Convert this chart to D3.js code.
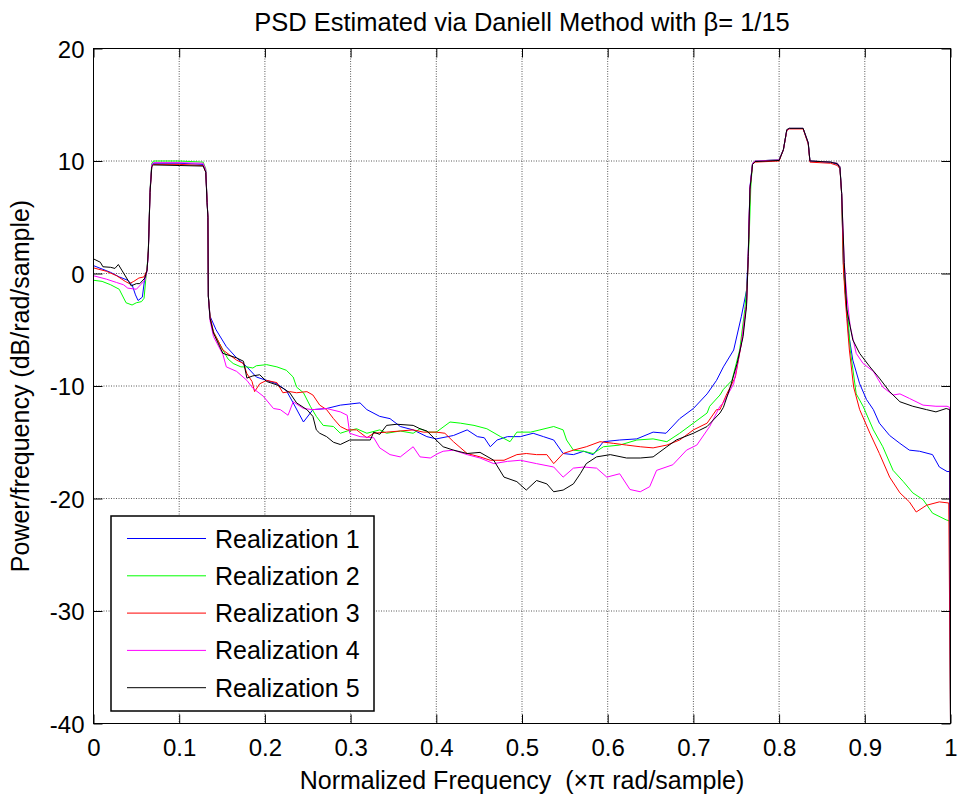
<!DOCTYPE html>
<html>
<head>
<meta charset="utf-8">
<script src="https://cdn.jsdelivr.net/npm/d3@7"></script>
<style>
    body { margin: 0; background: #fff; }
    text { font-family: 'Liberation Sans', Arial, sans-serif; fill: #000; }
</style>
</head>
<body>
<script>
// axis ticks
const xTicks = [0, 0.1, 0.2, 0.3, 0.4, 0.5, 0.6, 0.7, 0.8, 0.9, 1];
const yTicks = [-40, -30, -20, -10, 0, 10, 20];

const seriesNames = ['Realization 1', 'Realization 2', 'Realization 3', 'Realization 4', 'Realization 5'];
const seriesColors = ['#0000ff', '#00ff00', '#ff0000', '#ff00ff', '#000000'];

// [normalized frequency, dB/rad/sample]
const real1 = [[0,0.7],[0.01,0.4],[0.02,0.1],[0.03,-0.3],[0.04,-0.6],[0.045,-1.0],[0.049,-1.9],[0.052,-2.4],[0.057,-2.1],[0.06,-0.3],[0.0625,0.3],[0.064,2],[0.066,7.3],[0.068,9.6],[0.07,9.8],[0.1,9.8],[0.128,9.7],[0.131,9.1],[0.1325,6.5],[0.1335,5],[0.134,-2],[0.136,-3.8],[0.143,-5.0],[0.155,-6.5],[0.167,-7.5],[0.179,-8.3],[0.19,-9.2],[0.202,-9.5],[0.214,-9.8],[0.225,-10.4],[0.233,-11.5],[0.245,-13.2],[0.256,-12.1],[0.272,-12.0],[0.288,-11.7],[0.311,-11.5],[0.319,-12.1],[0.334,-12.7],[0.346,-12.9],[0.358,-13.6],[0.373,-13.9],[0.389,-14.5],[0.4,-14.7],[0.42,-14.4],[0.436,-13.9],[0.448,-14.5],[0.456,-14.6],[0.463,-15.4],[0.471,-14.8],[0.483,-14.5],[0.498,-14.5],[0.513,-14.2],[0.525,-14.5],[0.537,-14.8],[0.548,-16.0],[0.56,-16.1],[0.572,-15.8],[0.583,-16.1],[0.595,-14.95],[0.614,-14.8],[0.634,-14.7],[0.653,-14.1],[0.668,-14.2],[0.684,-12.9],[0.7,-12.0],[0.716,-10.7],[0.727,-9.5],[0.735,-8.3],[0.747,-6.8],[0.756,-3.8],[0.762,-1.5],[0.764,1.8],[0.766,7.7],[0.769,9.8],[0.772,10.0],[0.8,10.1],[0.805,11.0],[0.809,12.75],[0.812,12.9],[0.828,12.9],[0.834,11.6],[0.836,10.0],[0.86,9.9],[0.868,9.7],[0.871,9.4],[0.873,7.1],[0.875,0.9],[0.877,-1.5],[0.881,-5.3],[0.886,-7.7],[0.894,-9.8],[0.902,-11.2],[0.91,-12.1],[0.917,-13.3],[0.929,-14.4],[0.941,-15.1],[0.952,-15.7],[0.964,-15.8],[0.979,-16.1],[0.987,-17.2],[0.996,-17.6],[0.999,-17.6],[1,-40]];

const real2 = [[0,-0.6],[0.01,-0.7],[0.02,-1.0],[0.03,-1.4],[0.034,-2.0],[0.038,-2.6],[0.045,-2.8],[0.05,-2.6],[0.056,-2.5],[0.059,-2.2],[0.061,-0.5],[0.0625,0.5],[0.064,2.2],[0.066,7.5],[0.068,9.8],[0.07,10.0],[0.1,10.0],[0.128,9.9],[0.131,9.3],[0.1325,6.5],[0.1335,5],[0.134,-2],[0.136,-4.0],[0.14,-5.2],[0.151,-6.8],[0.157,-7.6],[0.163,-8.0],[0.172,-8.3],[0.179,-8.3],[0.186,-8.4],[0.19,-8.2],[0.202,-8.1],[0.214,-8.3],[0.225,-8.6],[0.233,-9.2],[0.237,-10.1],[0.245,-10.6],[0.253,-11.8],[0.26,-12.7],[0.268,-13.5],[0.28,-13.6],[0.288,-14.2],[0.296,-14.0],[0.307,-13.8],[0.319,-14.2],[0.334,-13.9],[0.342,-14.2],[0.358,-14.0],[0.373,-14.2],[0.381,-13.8],[0.391,-14.1],[0.4,-14.1],[0.416,-13.2],[0.428,-13.3],[0.444,-13.5],[0.459,-13.8],[0.475,-14.5],[0.486,-14.95],[0.494,-14.1],[0.51,-14.1],[0.521,-13.9],[0.537,-13.6],[0.548,-13.9],[0.552,-14.8],[0.56,-15.7],[0.572,-15.8],[0.583,-16.0],[0.595,-15.4],[0.614,-15.25],[0.634,-14.8],[0.653,-14.7],[0.669,-14.95],[0.684,-14.2],[0.7,-13.3],[0.716,-12.4],[0.719,-11.8],[0.731,-10.8],[0.735,-10.3],[0.745,-9.5],[0.754,-6.8],[0.76,-3.2],[0.763,-0.5],[0.765,3],[0.767,7.7],[0.769,9.8],[0.772,10.0],[0.8,10.1],[0.805,11.0],[0.809,12.75],[0.812,12.9],[0.828,12.9],[0.834,11.6],[0.836,10.0],[0.86,9.9],[0.868,9.8],[0.871,9.5],[0.873,7.1],[0.875,0.9],[0.877,-1.5],[0.881,-4.5],[0.883,-6.8],[0.89,-10.7],[0.898,-11.8],[0.91,-13.9],[0.921,-15.4],[0.933,-17.5],[0.945,-18.5],[0.956,-19.5],[0.968,-20.1],[0.979,-21.3],[0.995,-21.9],[0.999,-22.0],[1,-40]];

const real3 = [[0,0.5],[0.015,0.2],[0.027,-0.2],[0.037,-0.7],[0.042,-0.9],[0.047,-0.7],[0.053,-0.4],[0.059,-0.3],[0.0625,0.3],[0.064,2],[0.066,7.2],[0.068,9.5],[0.07,9.7],[0.1,9.7],[0.128,9.6],[0.131,9.0],[0.1325,6.5],[0.1335,5],[0.134,-2],[0.136,-3.8],[0.14,-5.2],[0.151,-6.8],[0.167,-7.7],[0.175,-8.0],[0.179,-8.9],[0.185,-9.6],[0.188,-10.5],[0.194,-9.8],[0.202,-9.5],[0.214,-9.7],[0.221,-10.6],[0.229,-10.5],[0.237,-10.6],[0.249,-10.5],[0.256,-10.8],[0.264,-11.7],[0.272,-12.1],[0.28,-12.9],[0.288,-13.6],[0.296,-13.9],[0.307,-13.9],[0.319,-14.6],[0.327,-14.2],[0.342,-14.1],[0.358,-14.0],[0.373,-13.9],[0.385,-14.1],[0.4,-14.1],[0.41,-14.2],[0.42,-14.95],[0.436,-16.0],[0.451,-16.3],[0.463,-16.6],[0.479,-16.6],[0.494,-16.1],[0.505,-16.0],[0.517,-16.1],[0.529,-16.1],[0.537,-16.9],[0.548,-16.0],[0.56,-15.7],[0.575,-15.4],[0.591,-14.95],[0.607,-15.1],[0.622,-15.25],[0.638,-15.4],[0.653,-15.5],[0.669,-15.25],[0.684,-14.8],[0.7,-13.9],[0.716,-13.3],[0.727,-12.1],[0.731,-12.1],[0.739,-10.7],[0.749,-9.2],[0.756,-6.2],[0.762,-2.7],[0.764,1.5],[0.766,7.5],[0.769,9.7],[0.772,9.9],[0.8,10.0],[0.805,11.0],[0.809,12.7],[0.812,12.85],[0.828,12.85],[0.834,11.5],[0.836,9.9],[0.86,9.8],[0.868,9.6],[0.871,9.3],[0.873,7.0],[0.875,0.5],[0.877,-2.0],[0.879,-4.0],[0.882,-6.8],[0.887,-10.1],[0.894,-12.1],[0.906,-14.2],[0.917,-16.0],[0.929,-18.1],[0.941,-19.5],[0.952,-20.3],[0.96,-21.2],[0.972,-20.6],[0.987,-20.3],[0.998,-20.4],[1,-40]];

const real4 = [[0,-0.2],[0.015,-0.5],[0.027,-0.8],[0.035,-1.0],[0.04,-1.3],[0.05,-1.4],[0.055,-1.0],[0.06,-0.6],[0.0625,0.2],[0.064,2],[0.066,7.4],[0.068,9.7],[0.07,9.85],[0.1,9.85],[0.128,9.8],[0.131,9.2],[0.1325,6.5],[0.1335,5],[0.134,-2],[0.136,-4.2],[0.14,-5.6],[0.151,-7.2],[0.155,-8.3],[0.167,-8.7],[0.179,-9.5],[0.186,-10.2],[0.198,-10.9],[0.21,-12.0],[0.218,-12.1],[0.227,-12.6],[0.233,-11.4],[0.245,-12.0],[0.256,-12.1],[0.272,-12.0],[0.288,-12.3],[0.296,-12.6],[0.299,-14.2],[0.311,-14.5],[0.327,-14.6],[0.334,-15.5],[0.346,-16.1],[0.358,-16.3],[0.373,-15.4],[0.381,-16.3],[0.393,-16.4],[0.402,-16.0],[0.408,-15.8],[0.42,-15.7],[0.436,-16.1],[0.451,-16.4],[0.467,-16.9],[0.483,-16.7],[0.498,-16.6],[0.517,-16.9],[0.537,-17.2],[0.548,-18.1],[0.56,-17.3],[0.572,-17.2],[0.587,-17.3],[0.599,-18.1],[0.614,-17.8],[0.626,-19.2],[0.638,-19.4],[0.649,-18.95],[0.657,-17.5],[0.676,-17.0],[0.692,-15.7],[0.704,-15.25],[0.719,-13.6],[0.731,-11.8],[0.735,-11.5],[0.747,-9.8],[0.756,-6.2],[0.762,-2.7],[0.764,1.6],[0.766,7.6],[0.769,9.8],[0.772,10.0],[0.8,10.1],[0.805,11.0],[0.809,12.75],[0.812,12.9],[0.828,12.9],[0.834,11.6],[0.836,10.0],[0.86,9.9],[0.868,9.8],[0.871,9.5],[0.873,7.1],[0.876,1.0],[0.879,-2.0],[0.883,-4.7],[0.89,-7.1],[0.898,-8.0],[0.91,-8.7],[0.921,-10.1],[0.933,-10.8],[0.941,-10.7],[0.952,-11.1],[0.968,-11.7],[0.983,-11.8],[0.996,-11.8],[0.999,-11.9],[1,-40]];

const real5 = [[0,1.3],[0.008,1.0],[0.011,0.6],[0.02,0.55],[0.025,0.45],[0.029,0.8],[0.033,0.3],[0.041,-0.7],[0.044,-1.1],[0.05,-0.9],[0.054,-0.9],[0.06,-0.4],[0.0625,0.3],[0.064,2],[0.066,7.2],[0.068,9.5],[0.07,9.65],[0.1,9.6],[0.128,9.55],[0.131,9.0],[0.1325,6.3],[0.1335,5],[0.134,-2],[0.136,-4.0],[0.14,-5.3],[0.151,-7.1],[0.167,-7.5],[0.175,-7.8],[0.179,-9.3],[0.186,-9.1],[0.194,-9.0],[0.202,-9.6],[0.214,-9.9],[0.221,-10.2],[0.229,-10.6],[0.237,-11.5],[0.249,-12.1],[0.256,-12.7],[0.26,-13.9],[0.264,-14.2],[0.272,-14.5],[0.28,-15.0],[0.288,-15.2],[0.299,-14.8],[0.323,-14.8],[0.327,-14.1],[0.334,-14.3],[0.342,-13.5],[0.354,-13.4],[0.373,-13.5],[0.381,-13.8],[0.389,-14.0],[0.397,-14.6],[0.408,-15.4],[0.42,-15.7],[0.436,-16.0],[0.451,-15.9],[0.467,-16.6],[0.479,-18.1],[0.494,-18.5],[0.505,-19.25],[0.517,-18.4],[0.529,-18.7],[0.537,-19.4],[0.548,-19.25],[0.56,-18.7],[0.568,-17.8],[0.575,-16.9],[0.587,-16.3],[0.603,-16.1],[0.622,-16.4],[0.638,-16.4],[0.653,-16.3],[0.669,-15.4],[0.68,-14.8],[0.7,-14.2],[0.716,-13.6],[0.731,-12.4],[0.735,-11.9],[0.743,-10.1],[0.751,-8.0],[0.758,-5.6],[0.762,-2.9],[0.764,1.5],[0.766,7.5],[0.769,9.7],[0.772,9.95],[0.8,10.05],[0.805,11.0],[0.809,12.8],[0.812,12.9],[0.828,12.9],[0.834,11.6],[0.836,10.0],[0.86,9.9],[0.868,9.75],[0.871,9.4],[0.873,7.1],[0.876,1.0],[0.879,-3.2],[0.886,-5.9],[0.894,-7.1],[0.906,-8.3],[0.917,-9.3],[0.929,-10.5],[0.941,-11.4],[0.956,-11.8],[0.972,-12.1],[0.983,-12.3],[0.995,-12.0],[0.999,-12.1],[1,-40]];

const seriesData = [real1, real2, real3, real4, real5];

const margin = {top: 48.5, left: 93.5};
const width = 857;
const height = 675;

const svg = d3.select('body')
    .append('svg')
    .attr('width', 959)
    .attr('height', 800);

const x = d3.scaleLinear().domain([0, 1]).range([0, width]);
const y = d3.scaleLinear().domain([-40, 20]).range([height, 0]);

const g = svg.append('g')
    .attr('transform', 'translate(' + margin.left + ',' + margin.top + ')');

g.append('defs').append('clipPath')
    .attr('id', 'plot-clip')
    .append('rect')
    .attr('width', width)
    .attr('height', height);

// dotted grid
g.selectAll('.xgrid')
    .data(xTicks.slice(1, -1))
    .enter()
    .append('line')
    .attr('x1', d => x(d))
    .attr('x2', d => x(d))
    .attr('y1', 0)
    .attr('y2', height)
    .style('stroke', '#5a5a5a')
    .style('stroke-dasharray', '1,1.5');

g.selectAll('.ygrid')
    .data(yTicks.slice(1, -1))
    .enter()
    .append('line')
    .attr('x1', 0)
    .attr('x2', width)
    .attr('y1', d => y(d))
    .attr('y2', d => y(d))
    .style('stroke', '#5a5a5a')
    .style('stroke-dasharray', '1,1.5');

// lines
const line = d3.line()
    .x(d => x(d[0]))
    .y(d => y(d[1]));

g.append('g')
    .attr('clip-path', 'url(#plot-clip)')
    .selectAll('path')
    .data(seriesData)
    .enter()
    .append('path')
    .attr('d', line)
    .style('fill', 'none')
    .style('stroke', (d, i) => seriesColors[i])
    .style('stroke-width', 1);

// axes, ticks point inward like MATLAB
const fmtX = d => d === 0 || d === 1 ? String(d) : d.toFixed(1);
const fmtY = d => String(d);

const styleAxis = sel => {
    sel.select('.domain').remove();
    sel.selectAll('line').style('stroke', '#000');
    sel.selectAll('text')
        .style('font-family', "'Liberation Sans', Arial, sans-serif")
        .style('font-size', '24px')
        .style('fill', '#000');
};

g.append('g')
    .attr('transform', 'translate(0,' + height + ')')
    .call(d3.axisBottom(x).tickValues(xTicks).tickFormat(fmtX).tickSize(-9).tickPadding(15))
    .call(styleAxis);

g.append('g')
    .call(d3.axisTop(x).tickValues(xTicks).tickFormat('').tickSize(-9))
    .call(styleAxis);

g.append('g')
    .call(d3.axisLeft(y).tickValues(yTicks).tickFormat(fmtY).tickSize(-9).tickPadding(9))
    .call(styleAxis)
    .selectAll('text')
    .attr('dy', '0.36em');

g.append('g')
    .attr('transform', 'translate(' + width + ',0)')
    .call(d3.axisRight(y).tickValues(yTicks).tickFormat('').tickSize(-9))
    .call(styleAxis);

g.append('rect')
    .attr('width', width)
    .attr('height', height)
    .style('fill', 'none')
    .style('stroke', '#000')
    .style('stroke-width', 1);

// legend
const legend = svg.append('g')
    .attr('transform', 'translate(111,516)');

legend.append('rect')
    .attr('width', 263)
    .attr('height', 195)
    .style('fill', '#fff')
    .style('stroke', '#000')
    .style('stroke-width', 1.5);

const item = legend.selectAll('.item')
    .data(seriesNames)
    .enter()
    .append('g')
    .attr('transform', (d, i) => 'translate(0,' + (22.5 + i * 37.3) + ')');

item.append('line')
    .attr('x1', 16)
    .attr('x2', 95)
    .style('stroke', (d, i) => seriesColors[i])
    .style('stroke-width', 1);

item.append('text')
    .attr('x', 104)
    .attr('dy', '0.36em')
    .style('font-size', '25px')
    .text(d => d);

// title and labels
svg.append('text')
    .attr('x', margin.left + width / 2)
    .attr('y', 31)
    .attr('text-anchor', 'middle')
    .style('font-size', '25.5px')
    .text('PSD Estimated via Daniell Method with \u03b2= 1/15');

svg.append('text')
    .attr('x', margin.left + width / 2)
    .attr('y', 789)
    .attr('text-anchor', 'middle')
    .style('font-size', '25px')
    .style('white-space', 'pre')
    .text('Normalized Frequency  (\u00d7\u03c0 rad/sample)');

svg.append('text')
    .attr('transform', 'translate(29,' + (margin.top + height / 2) + ') rotate(-90)')
    .attr('text-anchor', 'middle')
    .style('font-size', '25px')
    .text('Power/frequency (dB/rad/sample)');
</script>
</body>
</html>
